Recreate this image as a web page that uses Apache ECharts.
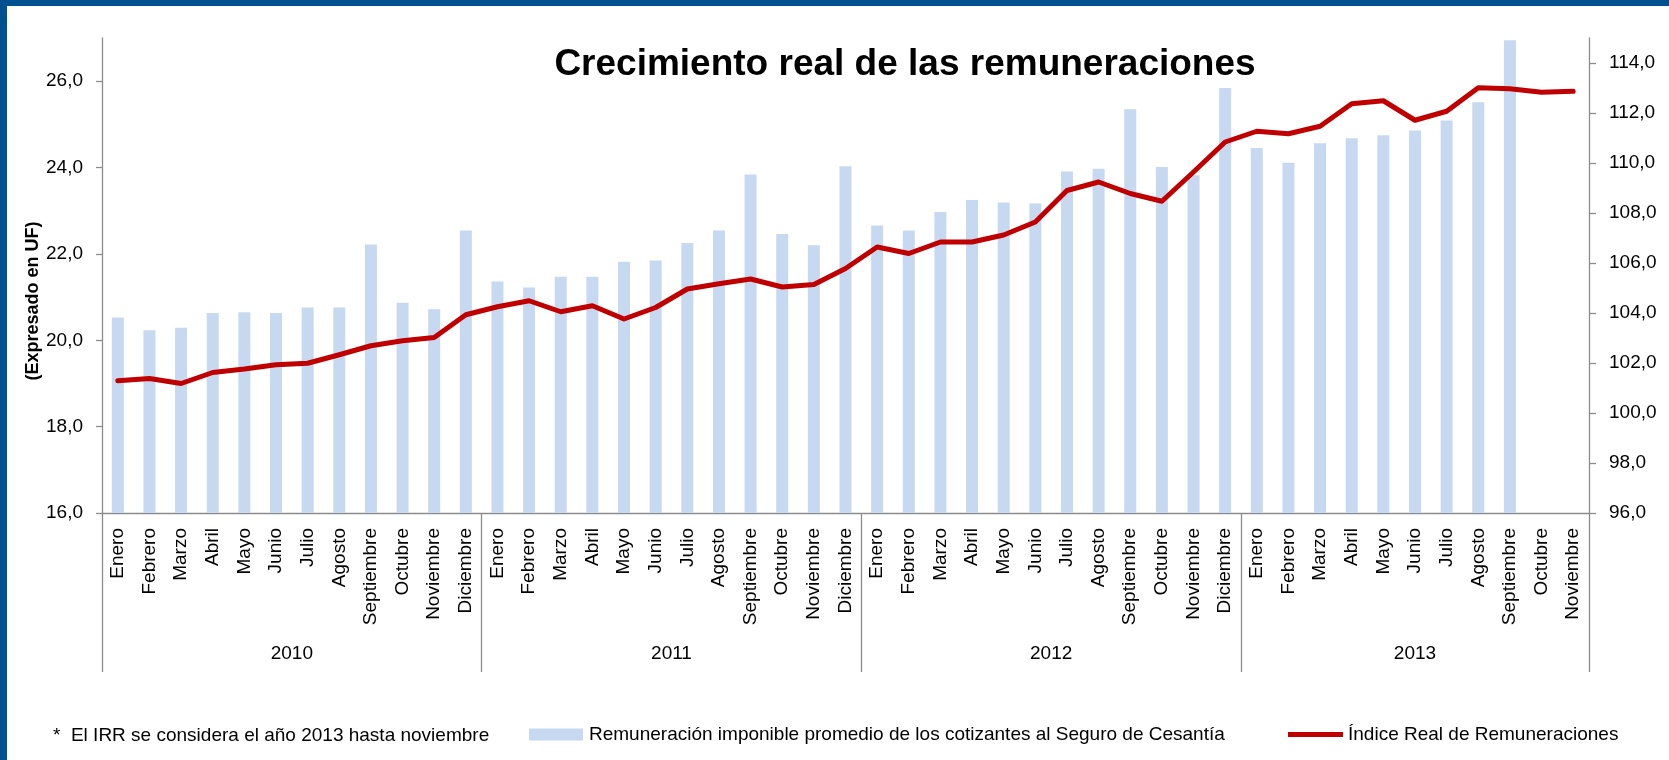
<!DOCTYPE html>
<html>
<head>
<meta charset="utf-8">
<title>Crecimiento real de las remuneraciones</title>
<script src="https://cdn.jsdelivr.net/npm/echarts@6/dist/echarts.min.js"></script>
<style>
    html, body { margin: 0; padding: 0; background: #fff; }
    #chart { width: 1669px; height: 760px; }
</style>
</head>
<body>
<div id="chart"></div>
<script>
// datos
var years = ['2010', '2011', '2012', '2013'];
var monthsPerYear = [12, 12, 12, 11];
var monthNames = ['Enero', 'Febrero', 'Marzo', 'Abril', 'Mayo', 'Junio', 'Julio',
    'Agosto', 'Septiembre', 'Octubre', 'Noviembre', 'Diciembre'];

// Remuneración imponible promedio (UF) - eje izquierdo
var remuneracion = [
    20.53, 20.23, 20.29, 20.63, 20.65, 20.63, 20.76, 20.76, 22.22, 20.87, 20.72, 22.54,
    21.36, 21.22, 21.47, 21.47, 21.82, 21.85, 22.25, 22.54, 23.84, 22.46, 22.20, 24.03,
    22.66, 22.54, 22.97, 23.25, 23.19, 23.17, 23.91, 23.97, 25.35, 24.01, 23.82, 25.84,
    24.45, 24.11, 24.56, 24.68, 24.75, 24.86, 25.09, 25.51, 26.95, null, null
];

// Índice Real de Remuneraciones - eje derecho
var indiceReal = [
    101.29, 101.38, 101.18, 101.62, 101.76, 101.93, 101.99, 102.33, 102.69, 102.89, 103.02, 103.93,
    104.25, 104.49, 104.05, 104.29, 103.76, 104.22, 104.96, 105.17, 105.36, 105.04, 105.14, 105.78,
    106.64, 106.38, 106.84, 106.84, 107.12, 107.64, 108.90, 109.24, 108.78, 108.47, 109.64, 110.84,
    111.27, 111.17, 111.47, 112.37, 112.49, 111.71, 112.07, 113.01, 112.97, 112.83, 112.87
];

var leftTicks = [16, 18, 20, 22, 24, 26];
var rightTicks = [96, 98, 100, 102, 104, 106, 108, 110, 112, 114];

var serieBarras = 'Remuneración imponible promedio de los cotizantes al Seguro de Cesantía';
var serieLinea = 'Índice Real de Remuneraciones';
var nota = '*  El IRR se considera el año 2013 hasta noviembre';

// categorias "año|mes", y limites / centros de cada año
var categories = [];
var yearBounds = [0];
var yearCenters = [];
var acc = 0;
years.forEach(function (y, i) {
    for (var m = 0; m < monthsPerYear[i]; m++) categories.push(y + '|' + monthNames[m]);
    yearCenters.push(acc + monthsPerYear[i] / 2);
    acc += monthsPerYear[i];
    yearBounds.push(acc);
});

function coma(v) { return v.toFixed(1).replace('.', ','); }

var FONT = '"Liberation Sans", Arial, sans-serif';
var GRIS = '#8c8c8c';

var chart = echarts.init(document.getElementById('chart'));

var option = {
    animation: false,
    textStyle: {fontFamily: FONT, color: '#000'},
    grid: {left: 102, right: 80, top: 38, bottom: 247, containLabel: false},
    legend: [{
        data: [serieBarras],
        left: 529, top: 725,
        padding: 0,
        itemWidth: 54, itemHeight: 12,
        icon: 'rect',
        textStyle: {fontFamily: FONT, fontSize: 19, color: '#000', padding: [0, 0, 0, 1]}
    }, {
        data: [serieLinea],
        left: 1288, top: 725,
        padding: 0,
        itemWidth: 55, itemHeight: 5,
        icon: 'rect',
        textStyle: {fontFamily: FONT, fontSize: 19, color: '#000'}
    }],
    xAxis: [{
        type: 'category',
        data: categories,
        position: 'bottom',
        axisLine: {lineStyle: {color: GRIS, width: 1.3}},
        axisTick: {show: false},
        axisLabel: {
            interval: 0,
            rotate: 90,
            margin: 15,
            fontSize: 19,
            fontFamily: FONT,
            color: '#000',
            formatter: function (v) { return v.split('|')[1]; }
        }
    }, {
        type: 'value',
        min: 0,
        max: acc,
        position: 'bottom',
        axisLine: {show: false},
        splitLine: {show: false},
        axisTick: {
            show: true,
            length: 159,
            customValues: yearBounds,
            lineStyle: {color: GRIS, width: 1.3}
        },
        axisLabel: {
            customValues: yearCenters,
            margin: 131,
            fontSize: 19,
            fontFamily: FONT,
            color: '#000',
            formatter: function (v) {
                var i = yearCenters.indexOf(v);
                return i >= 0 ? years[i] : '';
            }
        }
    }],
    yAxis: [{
        type: 'value',
        min: 16, max: 27, interval: 2,
        position: 'left',
        splitLine: {show: false},
        axisLine: {show: true, lineStyle: {color: GRIS, width: 1.3}},
        axisTick: {show: true, length: 6, customValues: leftTicks, lineStyle: {color: GRIS, width: 1.3}},
        axisLabel: {customValues: leftTicks, margin: 19, fontSize: 19, fontFamily: FONT, color: '#000', formatter: coma}
    }, {
        type: 'value',
        min: 96, max: 115, interval: 2,
        position: 'right',
        splitLine: {show: false},
        axisLine: {show: true, lineStyle: {color: GRIS, width: 1.3}},
        axisTick: {show: true, length: 7, customValues: rightTicks, lineStyle: {color: GRIS, width: 1.3}},
        axisLabel: {customValues: rightTicks, margin: 20, fontSize: 19, fontFamily: FONT, color: '#000', formatter: coma}
    }],
    series: [{
        name: serieBarras,
        type: 'bar',
        xAxisIndex: 0,
        yAxisIndex: 0,
        barWidth: 12,
        itemStyle: {color: '#C6D9F1'},
        data: remuneracion
    }, {
        name: serieLinea,
        type: 'line',
        xAxisIndex: 0,
        yAxisIndex: 1,
        showSymbol: false,
        symbol: 'none',
        lineStyle: {color: '#C00000', width: 5, join: 'round', cap: 'round'},
        itemStyle: {color: '#C00000'},
        data: indiceReal
    }],
    graphic: [
        // marco azul
        {type: 'rect', left: 0, top: 0, shape: {width: 1669, height: 6}, style: {fill: '#01508F'}},
        {type: 'rect', left: 0, top: 0, shape: {width: 7, height: 760}, style: {fill: '#01508F'}},
        {
            type: 'text', x: 905, y: 65,
            style: {
                text: 'Crecimiento real de las remuneraciones',
                font: 'bold 37px ' + FONT,
                fill: '#000', align: 'center', verticalAlign: 'middle'
            }
        },
        {
            type: 'text', x: 33, y: 301, rotation: Math.PI / 2,
            style: {
                text: '(Expresado en UF)',
                font: 'bold 18px ' + FONT,
                fill: '#000', align: 'center', verticalAlign: 'middle'
            }
        },
        {
            type: 'text', x: 53, y: 736,
            style: {
                text: nota,
                font: '19px ' + FONT,
                fill: '#000', align: 'left', verticalAlign: 'middle'
            }
        }
    ]
};

chart.setOption(option);
</script>
</body>
</html>
